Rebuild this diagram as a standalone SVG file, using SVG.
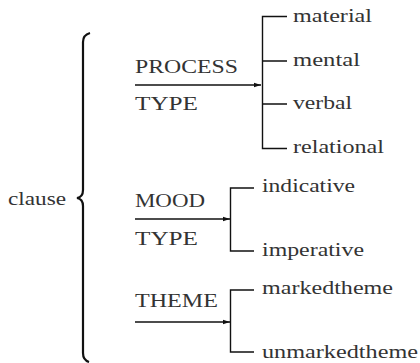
<svg xmlns="http://www.w3.org/2000/svg" width="420" height="363" viewBox="0 0 420 363">
<style>
text{font-family:"Liberation Serif","Times New Roman",Times,Tinos,"DejaVu Serif","Noto Serif",serif;font-size:18px;fill:#333}
.ln{stroke:#111;stroke-width:1.4;fill:none}
.ar{stroke:#111;stroke-width:1.3;fill:none;marker-end:url(#ah)}
</style>
<defs>
<marker id="ah" markerWidth="8" markerHeight="6" refX="7" refY="3" orient="auto" markerUnits="userSpaceOnUse">
<path d="M0,0.8 L7,3 L0,5.2 Z" fill="#111"/>
</marker>
</defs>
<rect width="420" height="363" fill="#fff"/>
<g id="clause">
<text x="8" y="205" textLength="58" lengthAdjust="spacingAndGlyphs" font-family="Liberation Serif, serif">clause</text>
<path d="M90,33 Q83,35 83,42 L83,190 Q83,197 77,198 Q83,199 83,206 L83,353 Q83,360 89,362" stroke="#111" stroke-width="2.2" fill="none"/>
</g>
<g id="process">
<text x="135" y="73" textLength="103" lengthAdjust="spacingAndGlyphs">PROCESS</text>
<text x="135" y="110" textLength="63" lengthAdjust="spacingAndGlyphs">TYPE</text>
</g>
<g id="mood">
<text x="135" y="207" textLength="70" lengthAdjust="spacingAndGlyphs">MOOD</text>
<text x="135" y="245" textLength="63" lengthAdjust="spacingAndGlyphs">TYPE</text>
</g>
<g id="theme">
<text x="135" y="307" textLength="83" lengthAdjust="spacingAndGlyphs">THEME</text>
</g>
<g id="process-options">
<text x="293" y="22" textLength="79" lengthAdjust="spacingAndGlyphs">material</text>
<text x="293" y="66" textLength="67" lengthAdjust="spacingAndGlyphs">mental</text>
<text x="293" y="109" textLength="59" lengthAdjust="spacingAndGlyphs">verbal</text>
<text x="293" y="153" textLength="91" lengthAdjust="spacingAndGlyphs">relational</text>
</g>
<g id="mood-options">
<text x="262" y="192" textLength="93" lengthAdjust="spacingAndGlyphs">indicative</text>
<text x="262" y="256" textLength="102" lengthAdjust="spacingAndGlyphs">imperative</text>
</g>
<g id="theme-options">
<text x="262" y="294" textLength="131" lengthAdjust="spacingAndGlyphs">markedtheme</text>
<text x="262" y="358" textLength="156" lengthAdjust="spacingAndGlyphs">unmarkedtheme</text>
</g>
<g id="connectors">
<path class="ar" d="M135,85 H261"/>
<path class="ln" d="M287,16.5 H262.5 V148.5 H287 M262.5,61 H287 M262.5,104 H287"/>
<path class="ar" d="M135,219 H230"/>
<path class="ln" d="M254,188 H230.5 V251 H254"/>
<path class="ar" d="M135,322 H230"/>
<path class="ln" d="M254,290 H230.5 V352 H254"/>
</g>
</svg>
